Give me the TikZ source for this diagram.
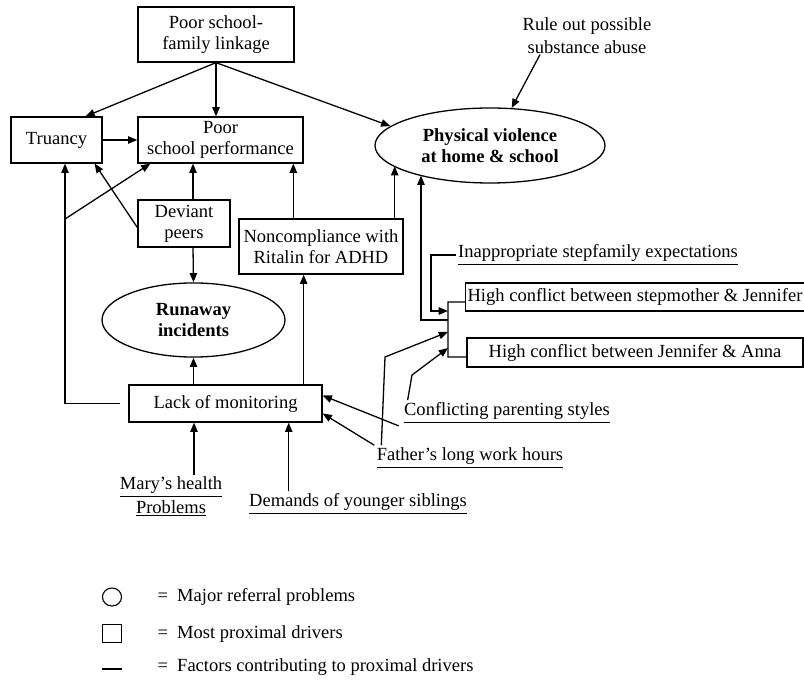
\documentclass[tikz,border=0pt]{standalone}
\usepackage{fontspec}
\setmainfont{Liberation Serif}
\usetikzlibrary{shapes.geometric, arrows.meta, calc}

\begin{document}
\begin{tikzpicture}[
  x=0.54pt, y=-0.54pt, line width=0.7pt,
  box/.style={draw, inner sep=1pt, align=center, font=\fontsize{10}{11.5}\selectfont},
  oval/.style={draw, ellipse, inner sep=0pt, align=center, font=\fontsize{10}{11.5}\selectfont\bfseries},
  lbl/.style={inner sep=1pt, align=center, font=\fontsize{10}{12.5}\selectfont},
  arr/.style={-{Triangle[length=5pt,width=4pt]}}
]
  \useasboundingbox (0,0) rectangle (804,680);

  % problems and drivers
  \node[box, minimum width=84.2pt, minimum height=29.7pt] (link) at (216,34.5) {Poor school-\\family linkage};
  \node[box, minimum width=49.1pt, minimum height=24.8pt] (trua) at (56.5,140) {Truancy};
  \node[box, minimum width=89.1pt, minimum height=24.8pt] (perf) at (220.5,140) {Poor\\school performance};
  \node[oval, minimum width=124.2pt, minimum height=40.5pt] (phys) at (490,145.5) {Physical violence\\at home \& school};
  \node[lbl] (rule) at (587,36) {Rule out possible\\substance abuse};
  \node[box, minimum width=49.7pt, minimum height=25.4pt] (dev) at (184,223.5) {Deviant\\peers};
  \node[box, minimum width=88.6pt, minimum height=29.7pt] (non) at (321,246.5) {Noncompliance with\\Ritalin for ADHD};
  \node[oval, minimum width=98.8pt, minimum height=40pt] (run) at (193.5,320) {Runaway\\incidents};
  \node[box, minimum width=104.2pt, minimum height=20pt] (lack) at (225.5,403.5) {Lack of monitoring};
  \node[box, minimum width=181.4pt, minimum height=15.1pt] (hc1) at (635,297) {High conflict between stepmother \& Jennifer};
  \node[box, minimum width=181.4pt, minimum height=15.7pt] (hc2) at (635,352.5) {High conflict between Jennifer \& Anna};

  % contributing factors
  \node[lbl] (inap) at (598,255) {\underline{Inappropriate stepfamily expectations}};
  \node[lbl] (conf) at (507,413) {\underline{Conflicting parenting styles}};
  \node[lbl] (fath) at (470,458) {\underline{Father’s long work hours}};
  \node[lbl] (mary) at (171,497) {\underline{Mary’s health}\\\underline{Problems}};
  \node[lbl] (dem) at (358,504) {\underline{Demands of younger siblings}};

  % helper points
  \coordinate (lp) at (65,403.5);
  \coordinate (fork) at (65,219);
  \coordinate (dx) at ($(dev.north)+(9,0)$);
  \coordinate (lq) at ($(lack.north east)+(-19,0)$);
  \coordinate (nq) at ($(non.north west)+(55,0)$);
  \coordinate (nr) at ($(non.north east)+(-9,0)$);
  \coordinate (brt) at (448,302);
  \coordinate (brb) at (448,357);
  \coordinate (b1) at (448,311);
  \coordinate (b2) at (448,320);
  \coordinate (b3) at (448,332);
  \coordinate (b4) at (448,348);
  \coordinate (pvc) at (421,320);
  \coordinate (ic) at (431,311);
  \coordinate (fc) at (385,357);
  \coordinate (cc) at (412,375);
  \coordinate (mq) at ($(mary.north)+(23,0)$);
  \coordinate (dq) at ($(dem.north west)+(42,0)$);

  % connectors
  \draw[arr] (link.south) -- ($(trua.north)+(29,0)$);
  \draw[arr] (link.south) -- (link.south |- perf.north);
  \draw[arr] (link.south) -- (phys.169);
  \draw[arr] ($(rule.south)+(-47,-2)$) -- (phys.60);
  \draw[arr] (trua.east) -- (perf.west);
  \draw[arr] ([xshift=-4.3pt]lack.west) -- (lp) -- (lp |- trua.south);
  \draw[arr] (fork) -- ($(perf.south west)+(13,0)$);
  \draw[arr] ($(dev.west)+(0,4)$) -- ($(trua.south east)+(-8,0)$);
  \draw[arr] (dx) -- (dx |- perf.south);
  \draw[arr] ($(dev.south)+(9,0)$) -- (run.north);
  \draw[arr] (run.south |- lack.north) -- (run.south);
  \draw[arr] (lq) -- (lq |- non.south);
  \draw[arr] (nq) -- (nq |- perf.south);
  \draw[arr] (nr) -- (nr |- phys.192);

  % bracket of conflicts
  \draw ($(hc1.west)+(0,5)$) -- (brt) -- (brb) -- ($(hc2.west)+(0,4.5)$);
  \draw[arr] (b2) -- (pvc) -- (pvc |- phys.203);
  \draw[arr] (inap.west) -| (ic) -- (b1);
  \draw[arr] ($(fath.north west)+(7,0)$) -- (fc) -- (b3);
  \draw[arr] ($(conf.north west)+(6,0)$) -- (cc) -- (b4);
  \draw[arr] (fath.north west) -- ($(lack.east)+(0,10)$);
  \draw[arr] ($(conf.south west)+(-3,0)$) -- ($(lack.east)+(0,-8)$);
  \draw[arr] (mq) -- (mq |- lack.south);
  \draw[arr] (dq) -- (dq |- lack.south);

  % legend
  \node[draw, ellipse, minimum width=10.3pt, minimum height=9.7pt, inner sep=0pt, line width=0.6pt] (lc) at (112,597) {};
  \node[draw, minimum width=10.3pt, minimum height=10pt, inner sep=0pt, line width=0.6pt] (ls) at (112,633.5) {};
  \coordinate (ld) at (102,669);
  \draw[line width=0.6pt] (ld) -- ++(20,0);
  \node[lbl, anchor=west] (lt1) at (155,597) {=\ \ Major referral problems};
  \node[lbl, anchor=west] (lt2) at (155,634) {=\ \ Most proximal drivers};
  \node[lbl, anchor=west] (lt3) at (155,667) {=\ \ Factors contributing to proximal drivers};
\end{tikzpicture}
\end{document}
